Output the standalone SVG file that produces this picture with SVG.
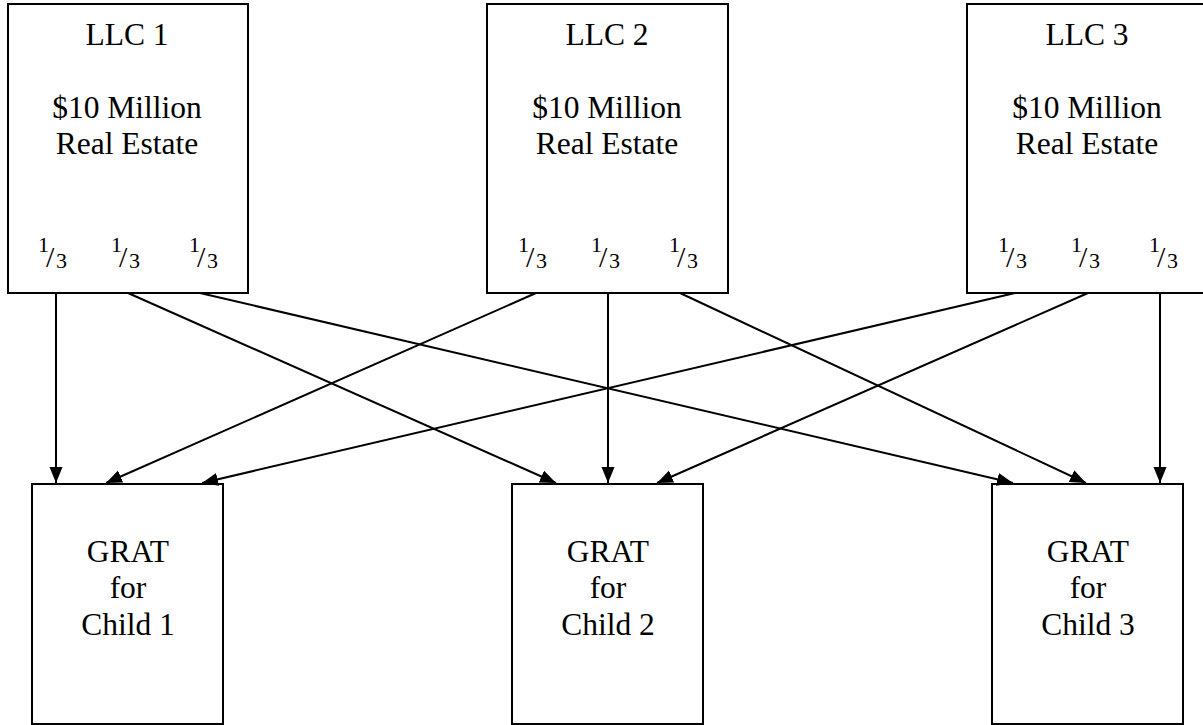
<svg xmlns="http://www.w3.org/2000/svg" width="1203" height="725" viewBox="0 0 1203 725">
<style>
.box{fill:#fff;stroke:#000;stroke-width:2}
.t{font-family:"Liberation Serif","Times New Roman",serif;font-size:31.5px;fill:#000;text-anchor:middle}
.s{font-family:"Liberation Serif","Times New Roman",serif;font-size:22px;fill:#000}
.sl{font-family:"Liberation Serif","Times New Roman",serif;font-size:30px;fill:#000}
.c{stroke:#000;stroke-width:2;fill:none;marker-end:url(#ah)}
</style>
<defs>
<marker id="ah" markerUnits="userSpaceOnUse" markerWidth="18" markerHeight="15" refX="16" refY="6.5" orient="auto">
<path d="M0,0 L16,6.5 L0,13 z" fill="#000"/>
</marker>
<g id="frac">
<text class="s" x="-15" y="252">1</text>
<text class="sl" x="-7" y="267">/</text>
<text class="s" x="3" y="268">3</text>
</g>
</defs>
<rect width="1203" height="725" fill="#fff"/>
<g id="llc1">
<rect class="box" x="8" y="4" width="240" height="289"/>
<text class="t" x="127" y="45">LLC 1</text>
<text class="t" x="127" y="118">$10 Million</text>
<text class="t" x="127" y="154">Real Estate</text>
<use href="#frac" x="53"/><use href="#frac" x="126"/><use href="#frac" x="204"/>
</g>
<g id="llc2">
<rect class="box" x="487" y="4" width="241" height="289"/>
<text class="t" x="607" y="45">LLC 2</text>
<text class="t" x="607" y="118">$10 Million</text>
<text class="t" x="607" y="154">Real Estate</text>
<use href="#frac" x="533"/><use href="#frac" x="606"/><use href="#frac" x="684"/>
</g>
<g id="llc3">
<rect class="box" x="967" y="4" width="241" height="289"/>
<text class="t" x="1087" y="45">LLC 3</text>
<text class="t" x="1087" y="118">$10 Million</text>
<text class="t" x="1087" y="154">Real Estate</text>
<use href="#frac" x="1013"/><use href="#frac" x="1086"/><use href="#frac" x="1164"/>
</g>
<g id="grat1">
<rect class="box" x="32" y="484" width="191" height="240"/>
<text class="t" x="128" y="562">GRAT</text>
<text class="t" x="128" y="598">for</text>
<text class="t" x="128" y="635">Child 1</text>
</g>
<g id="grat2">
<rect class="box" x="512" y="484" width="191" height="240"/>
<text class="t" x="608" y="562">GRAT</text>
<text class="t" x="608" y="598">for</text>
<text class="t" x="608" y="635">Child 2</text>
</g>
<g id="grat3">
<rect class="box" x="992" y="484" width="191" height="240"/>
<text class="t" x="1088" y="562">GRAT</text>
<text class="t" x="1088" y="598">for</text>
<text class="t" x="1088" y="635">Child 3</text>
</g>
<g id="connectors">
<line class="c" x1="56" y1="293" x2="56" y2="483"/>
<line class="c" x1="128" y1="293" x2="556" y2="483"/>
<line class="c" x1="200" y1="293" x2="1013" y2="483"/>
<line class="c" x1="536" y1="293" x2="106" y2="483"/>
<line class="c" x1="608" y1="293" x2="608" y2="483"/>
<line class="c" x1="680" y1="293" x2="1086" y2="483"/>
<line class="c" x1="1015" y1="293" x2="202" y2="483"/>
<line class="c" x1="1088" y1="293" x2="657" y2="483"/>
<line class="c" x1="1160" y1="293" x2="1160" y2="483"/>
</g>
</svg>
